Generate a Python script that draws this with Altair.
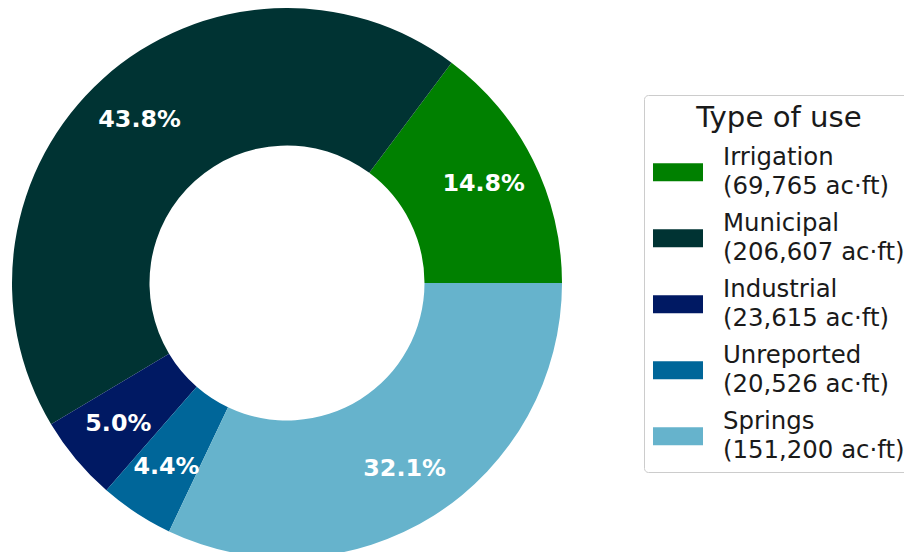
import math
import altair as alt
import pandas as pd

categories = ["Irrigation", "Municipal", "Industrial", "Unreported", "Springs"]
values = [69765, 206607, 23615, 20526, 151200]
colors = ["#008000", "#003333", "#001963", "#006699", "#66b3cc"]
# clockwise drawing order starting at 3 o'clock (matches counter-clockwise from east)
draw_order = [4, 3, 2, 1, 0]

total = sum(values)
labels = [f"{c}\n({v:,} ac\u00b7ft)" for c, v in zip(categories, values)]
df = pd.DataFrame({
    "label": labels,
    "value": values,
    "order": draw_order,
    "pct": [f"{100 * v / total:.1f}%" for v in values],
})

cx, cy, R = 279, 275, 275
theta_scale = alt.Scale(range=[math.pi / 2, math.pi / 2 + 2 * math.pi])

base = alt.Chart(df).encode(
    theta=alt.Theta("value:Q", stack=True, scale=theta_scale),
    order=alt.Order("order:Q", sort="ascending"),
)

arcs = base.mark_arc(outerRadius=R, innerRadius=R * 0.5).encode(
    x=alt.value(cx),
    y=alt.value(cy),
    color=alt.Color(
        "label:N",
        scale=alt.Scale(domain=labels, range=colors),
        legend=alt.Legend(
            title="Type of use",
            orient="none",
            legendX=636,
            legendY=87,
            symbolType="M-1,0.2H1V0.92H-1Z",
            symbolSize=2500,
            symbolStrokeWidth=0,
            labelExpr="split(datum.label, '\\n')",
            labelFont="DejaVu Sans",
            labelFontSize=24.4,
            labelColor="#1a1a1a",
            labelLimit=0,
            labelOffset=20,
            titleFont="DejaVu Sans",
            titleFontSize=29.2,
            titleFontWeight="normal",
            titleColor="#1a1a1a",
            titleAnchor="middle",
            titlePadding=0,
            rowPadding=0,
            padding=9,
            fillColor="white",
            strokeColor="#cccccc",
            cornerRadius=4,
        ),
    ),
)

texts = base.mark_text(
    radius=R * 0.8,
    font="DejaVu Sans",
    fontSize=23.8,
    fontWeight="bold",
    color="white",
    align="center",
    baseline="middle",
).encode(
    x=alt.value(cx),
    y=alt.value(cy),
    text="pct:N",
)

chart = (
    alt.layer(arcs, texts)
    .properties(width=896, height=544, autosize=alt.AutoSizeParams(type="none"), padding=0)
    .configure(
        view=alt.ViewConfig(stroke=None),
        style={"guide-label": {"lineHeight": 29}},
    )
)

chart.save("out.html", embed_options={"renderer": "svg", "actions": False})
